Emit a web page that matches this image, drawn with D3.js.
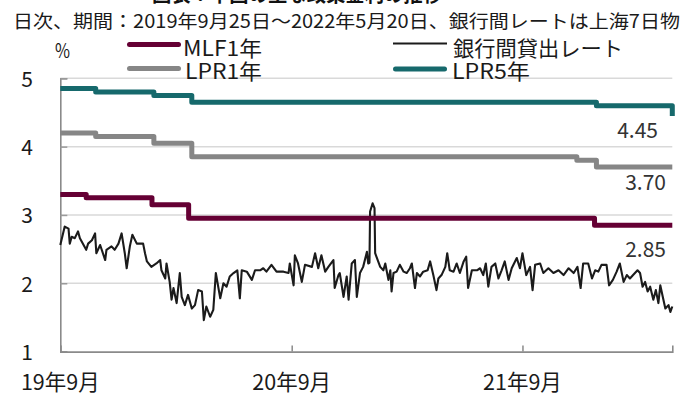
<!DOCTYPE html>
<html><head><meta charset="utf-8">
<script src="https://cdn.jsdelivr.net/npm/d3@7"></script>
<style>body{margin:0;background:#fff}svg{display:block}</style>
</head><body>
<svg id="c" width="697" height="394"></svg>
<script>
// ---------------- data ----------------
const titleText = "図表：中国の主な政策金利の推移";
const subtitleText = "日次、期間：2019年9月25日～2022年5月20日、銀行間レートは上海7日物";
const unitText = "%";
const startDate = "2019-09-25";
const endDate = "2022-05-20";
const yTicks = [1, 2, 3, 4, 5];
const xTickDates = ["2019-09-25", "2020-09-25", "2021-09-25"];
const xTickLabels = ["19年9月", "20年9月", "21年9月"];

const mlfDates = ["2019-09-25", "2019-11-05", "2020-02-17", "2020-04-15", "2022-01-17", "2022-05-20"];
const mlfValues = [3.30, 3.25, 3.15, 2.95, 2.85, 2.85];
const lpr1Dates = ["2019-09-25", "2019-11-20", "2020-02-20", "2020-04-20", "2021-12-20", "2022-01-20", "2022-05-20"];
const lpr1Values = [4.20, 4.15, 4.05, 3.85, 3.80, 3.70, 3.70];
const lpr5Dates = ["2019-09-25", "2019-11-20", "2020-02-20", "2020-04-20", "2022-01-20", "2022-05-20"];
const lpr5Values = [4.85, 4.80, 4.75, 4.65, 4.60, 4.45];

// interbank 7-day rate: days since 2019-09-25, and value (%)
const interbankDays = [0,7,13,15,18,23,28,31,41,44,50,55,57,63,71,73,81,86,92,97,102,105,110,114,121,131,134,137,144,152,158,160,166,168,173,176,179,184,189,192,197,202,208,213,218,224,227,231,237,242,246,253,258,263,268,274,280,284,287,295,303,308,316,321,326,334,342,353,361,363,369,371,376,382,387,398,403,408,413,419,424,432,434,440,442,448,453,456,461,466,469,474,479,485,487,489,490,494,497,498,500,506,511,514,519,522,524,527,532,537,543,548,553,556,561,564,569,574,581,585,590,595,598,603,609,612,616,622,627,632,638,642,645,651,659,664,669,673,677,682,688,693,698,703,709,714,722,727,731,737,743,747,751,759,764,772,780,788,796,804,812,818,823,827,835,841,846,851,856,864,868,874,880,885,891,896,901,906,913,917,921,925,929,933,938,942,946,949,953,957,962,965,968];
const interbankValues = [2.56,2.83,2.80,2.58,2.68,2.66,2.76,2.66,2.49,2.58,2.63,2.73,2.44,2.56,2.34,2.49,2.54,2.49,2.58,2.73,2.44,2.22,2.54,2.71,2.58,2.58,2.44,2.32,2.24,2.29,2.34,2.19,2.07,2.29,2.02,1.76,1.93,1.71,2.15,1.80,1.68,1.83,1.63,1.68,1.90,1.88,1.46,1.66,1.51,1.61,2.15,1.78,2.00,1.95,2.10,2.15,2.19,1.78,2.19,2.17,2.05,2.19,2.19,2.22,2.17,2.27,2.17,2.17,2.15,2.29,1.97,2.41,2.29,2.02,2.27,2.24,2.44,2.22,2.41,2.17,2.24,2.34,1.93,2.12,2.15,1.80,2.10,1.76,2.29,2.34,1.80,2.15,2.24,2.46,2.29,2.30,3.05,3.17,3.10,2.44,2.39,2.24,2.19,2.29,2.05,2.19,1.88,2.15,2.17,2.27,2.17,2.15,2.22,2.29,1.93,2.15,2.10,2.17,2.19,2.32,2.12,1.90,2.07,2.12,2.24,2.44,2.19,2.17,2.29,2.15,2.32,2.39,1.93,2.19,2.19,2.22,2.12,2.29,1.95,2.24,2.29,2.07,2.19,2.32,2.05,2.22,2.37,2.22,2.44,2.12,2.24,1.90,2.27,2.29,2.15,2.22,2.15,2.19,2.12,2.22,2.15,2.24,1.93,2.29,2.29,2.07,2.19,2.17,2.27,2.27,1.97,2.05,2.17,2.29,2.02,2.12,2.07,2.12,2.19,2.15,1.95,2.02,1.88,1.95,1.76,1.90,1.71,1.97,1.80,1.63,1.68,1.58,1.66];

const endLabels = ["4.45", "3.70", "2.85"];
const legendNames = ["MLF1年", "銀行間貸出レート", "LPR1年", "LPR5年"];

// ---------------- drawing ----------------
const FONT = "'Noto Sans CJK JP','Noto Sans',sans-serif";
const C_MLF = "#650034", C_LPR1 = "#868686", C_LPR5 = "#16696c", C_IB = "#1b1b1b";
const parse = d3.timeParse("%Y-%m-%d");
const svg = d3.select("#c");

const x = d3.scaleTime().domain([parse(startDate), parse(endDate)]).range([60.3, 672.3]);
const y = d3.scaleLinear().domain([1, 5]).range([351.6, 78.3]);

// title & subtitle
svg.append("text").attr("x", 152).attr("y", 1.5).attr("font-family", FONT)
  .attr("font-size", 20).attr("font-weight", "bold").attr("fill", "#111")
  .attr("textLength", 290).attr("lengthAdjust", "spacingAndGlyphs").text(titleText);
svg.append("text").attr("x", 13).attr("y", 27.5).attr("font-family", FONT)
  .attr("font-size", 18.5).attr("fill", "#1a1a1a")
  .attr("textLength", 667).attr("lengthAdjust", "spacingAndGlyphs").text(subtitleText);

// gridlines
svg.append("g").selectAll("line").data(yTicks.filter(d => d > 1)).join("line")
  .attr("x1", x.range()[0]).attr("x2", x.range()[1])
  .attr("y1", d => y(d)).attr("y2", d => y(d))
  .attr("stroke", "#d9d9d9").attr("stroke-width", 1.5);

// y axis (inward ticks)
const yAxis = svg.append("g").attr("transform", `translate(${x.range()[0]},0)`)
  .call(d3.axisRight(y).tickValues(yTicks).tickSize(7).tickFormat(""));
yAxis.select(".domain").attr("stroke", "#8a8a8a").attr("stroke-width", 1.6);
yAxis.selectAll(".tick line").attr("stroke", "#9a9a9a").attr("stroke-width", 1.5);
svg.append("g").selectAll("text").data(yTicks).join("text")
  .attr("x", 33).attr("y", d => y(d) + 8.5).attr("text-anchor", "end")
  .attr("font-family", FONT).attr("font-size", 21).attr("fill", "#1a1a1a").text(d => d);
svg.append("text").attr("x", 55).attr("y", 58).attr("font-family", FONT)
  .attr("font-size", 20).attr("fill", "#1a1a1a")
  .attr("textLength", 15).attr("lengthAdjust", "spacingAndGlyphs").text(unitText);

// x axis (inward ticks)
const xAxis = svg.append("g").attr("transform", `translate(0,${y(1)})`)
  .call(d3.axisTop(x).tickValues(xTickDates.map(parse)).tickSize(6).tickFormat(""));
xAxis.select(".domain").attr("stroke", "#8a8a8a").attr("stroke-width", 1.6);
xAxis.selectAll(".tick line").attr("stroke", "#8a8a8a").attr("stroke-width", 1.5);
svg.append("g").selectAll("text").data(xTickDates).join("text")
  .attr("x", d => x(parse(d))).attr("y", 389.5).attr("text-anchor", "middle")
  .attr("font-family", FONT).attr("font-size", 21.5).attr("fill", "#1a1a1a")
  .text((d, i) => xTickLabels[i]);

// series
function draw(dates, values, color, width, curve) {
  const pts = dates.map((d, i) => [d, values[i]]);
  svg.append("path").datum(pts)
    .attr("d", d3.line().x(p => x(p[0])).y(p => y(p[1])).curve(curve))
    .attr("fill", "none").attr("stroke", color).attr("stroke-width", width)
    .attr("stroke-linejoin", "round");
}
const start = parse(startDate);
draw(interbankDays.map(n => d3.timeDay.offset(start, n)), interbankValues, C_IB, 2.1, d3.curveLinear);
draw(lpr5Dates.map(parse), lpr5Values, C_LPR5, 5, d3.curveStepAfter);
draw(lpr1Dates.map(parse), lpr1Values, C_LPR1, 5, d3.curveStepAfter);
draw(mlfDates.map(parse), mlfValues, C_MLF, 5, d3.curveStepAfter);

// end labels
const endVals = [lpr5Values[lpr5Values.length - 1], lpr1Values[lpr1Values.length - 1], mlfValues[mlfValues.length - 1]];
const endX = [658, 666, 666];
const endDy = [22, 23, 32];
svg.append("g").selectAll("text").data(endLabels).join("text")
  .attr("x", (d, i) => endX[i]).attr("y", (d, i) => y(endVals[i]) + endDy[i])
  .attr("text-anchor", "end").attr("font-family", FONT).attr("font-size", 21)
  .attr("fill", "#333").text(d => d);

// legend
const legColors = [C_MLF, C_IB, C_LPR1, C_LPR5];
const legWidths = [5, 1.8, 5, 5];
const legX = [127, 393, 127, 393];
const legY = [44.5, 43.5, 68.5, 69];
const legTextX = [183, 453, 185, 452];
const legTextLen = [79, 170, 77, 78];
const legBase = [55.5, 55.5, 78.5, 78.5];
const lg = svg.append("g");
legendNames.forEach((name, i) => {
  const round = legWidths[i] > 3;
  lg.append("line").attr("x1", legX[i] + (round ? 2.5 : 0)).attr("x2", legX[i] + 54 - (round ? 2.5 : 0))
    .attr("y1", legY[i]).attr("y2", legY[i]).attr("stroke", legColors[i])
    .attr("stroke-width", legWidths[i]).attr("stroke-linecap", round ? "round" : "butt");
  lg.append("text").attr("x", legTextX[i]).attr("y", legBase[i]).attr("font-family", FONT)
    .attr("font-size", 21).attr("fill", "#1a1a1a")
    .attr("textLength", legTextLen[i]).attr("lengthAdjust", "spacingAndGlyphs").text(name);
});
</script>
</body></html>
